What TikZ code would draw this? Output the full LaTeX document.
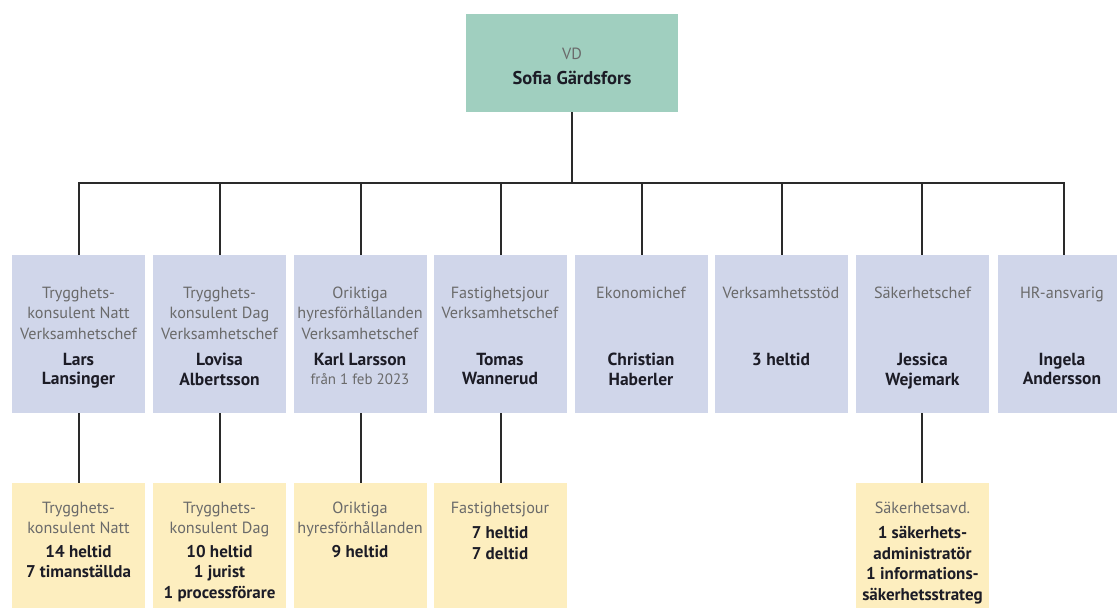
\documentclass[tikz,border=0pt]{standalone}
\usepackage{fontspec}
\setmainfont{PT Sans}
\definecolor{vdfill}{HTML}{A0CFBF}
\definecolor{midfill}{HTML}{D0D6EA}
\definecolor{lowfill}{HTML}{FDEEBF}
\definecolor{titlecol}{HTML}{6A6A6A}
\definecolor{namecol}{HTML}{1C1C26}
\definecolor{linecol}{HTML}{2A2A2A}
\newcommand{\nm}[1]{{\fontsize{17}{20.5}\selectfont\bfseries\color{namecol}#1}}
\tikzset{
  vdbox/.style={rectangle, fill=vdfill, minimum width=212pt, minimum height=98pt, inner sep=0pt},
  midbox/.style={rectangle, fill=midfill, minimum width=133pt, minimum height=158pt, inner sep=0pt},
  lowbox/.style={rectangle, fill=lowfill, minimum width=133pt, minimum height=126pt, inner sep=0pt},
  ttl/.style={anchor=north, inner sep=0pt, align=center, text=titlecol, font=\fontsize{16.2}{20.5}\selectfont},
  nms/.style={anchor=north, inner sep=0pt, align=center, text=namecol, font=\fontsize{17.5}{19.5}\selectfont\bfseries},
  conn/.style={draw=linecol, line width=2pt}
}
\begin{document}
\begin{tikzpicture}[x=1pt,y=-1pt]
\useasboundingbox (0,0) rectangle (1117,608);
\begin{scope}
\clip (0,0) rectangle (1117,608);
% top
\node[vdbox] (vd) at (572,63) {};
\node[ttl] (vdt) at (572,47.5) {VD\\[4.5pt]{\fontsize{18.5}{20}\selectfont\bfseries\color{namecol}Sofia Gärdsfors}};
% middle boxes
\node[midbox] (m1) at (78.5,334) {};
\node[midbox] (m2) at (219.5,334) {};
\node[midbox] (m3) at (360,334) {};
\node[midbox] (m4) at (500,334) {};
\node[midbox] (m5) at (641,334) {};
\node[midbox] (m6) at (781,334) {};
\node[midbox] (m7) at (922.5,334) {};
\node[midbox] (m8) at (1064,334) {};
% lower boxes
\node[lowbox] (l1) at (78.5,546) {};
\node[lowbox] (l2) at (219.5,546) {};
\node[lowbox] (l3) at (360,546) {};
\node[lowbox] (l4) at (500,546) {};
\node[lowbox] (l7) at (922.5,546) {};
% titles middle
\node[ttl] (t1) at (78.5,286.5) {Trygghets-\\konsulent Natt\\Verksamhetschef};
\node[ttl] (t2) at (219.5,286.5) {Trygghets-\\konsulent Dag\\Verksamhetschef};
\node[ttl] (t3) at (360,286.5) {Oriktiga\\hyresförhållanden\\Verksamhetschef};
\node[ttl] (t4) at (500,286.5) {Fastighetsjour\\Verksamhetschef};
\node[ttl] (t5) at (641,286.5) {Ekonomichef};
\node[ttl] (t6) at (781,286.5) {Verksamhetsstöd};
\node[ttl] (t7) at (922.5,286.5) {Säkerhetschef};
\node[ttl] (t8) at (1062,286.5) {HR-ansvarig};
% names middle
\node[nms] (n1) at (78.5,353) {Lars\\Lansinger};
\node[nms] (n2) at (219.5,353) {Lovisa\\Albertsson};
\node[nms] (n3) at (360,353) {Karl Larsson\\{\mdseries\color{titlecol}\fontsize{15}{19.5}\selectfont från 1 feb 2023}};
\node[nms] (n4) at (500,353) {Tomas\\Wannerud};
\node[nms] (n5) at (641,353) {Christian\\Haberler};
\node[nms] (n6) at (781,353) {3 heltid};
\node[nms] (n7) at (922.5,353) {Jessica\\Wejemark};
\node[nms] (n8) at (1062,353) {Ingela\\Andersson};
% lower texts
\node[ttl] (u1) at (78.5,501.5) {Trygghets-\\konsulent Natt\\[3pt]\nm{14 heltid}\\\nm{7 timanställda}};
\node[ttl] (u2) at (219.5,501.5) {Trygghets-\\konsulent Dag\\[3pt]\nm{10 heltid}\\\nm{1 jurist}\\\nm{1 processförare}};
\node[ttl] (u3) at (360,501.5) {Oriktiga\\hyresförhållanden\\[3pt]\nm{9 heltid}};
\node[ttl] (u4) at (500,501.5) {Fastighetsjour\\[5pt]\nm{7 heltid}\\\nm{7 deltid}};
\node[ttl] (u7) at (922.5,501.5) {Säkerhetsavd.\\[5pt]\nm{1 säkerhets-}\\\nm{administratör}\\\nm{1 informations-}\\\nm{säkerhetsstrateg}};
% connectors
\coordinate (barL) at (79,183);
\coordinate (barR) at (1064,183);
\draw[conn] (vd.south) -- (vd.south |- barL);
\draw[conn] ([xshift=-1pt]barL) -- ([xshift=1pt]barR);
\foreach \i/\d in {1/0.5,2/0.5,3/1,4/1,5/1,6/1,7/-0.5,8/0} {
  \draw[conn] ([xshift=\d pt]m\i.north) -- ([xshift=\d pt]m\i.north |- barL);
}
\foreach \i/\d in {1/0.5,2/0.5,3/1,4/1,7/-0.5} {
  \draw[conn] ([xshift=\d pt]m\i.south) -- ([xshift=\d pt]l\i.north);
}
\end{scope}
\end{tikzpicture}
\end{document}
